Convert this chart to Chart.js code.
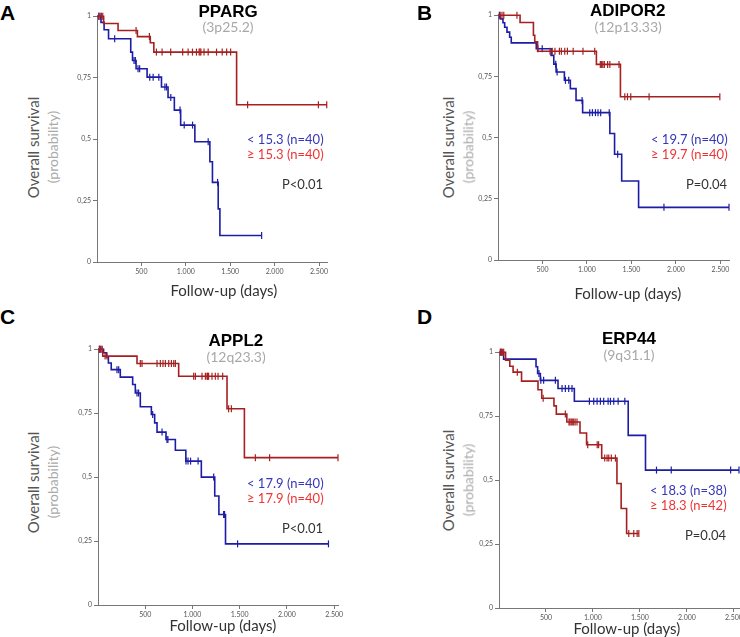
<!DOCTYPE html>
<html>
<head>
<meta charset="utf-8">
<script src="https://cdn.jsdelivr.net/npm/chart.js@4.4.1/dist/chart.umd.min.js"></script>
<style>
  body { margin: 0; background: #fff; }
  #page { position: relative; width: 740px; height: 637px; overflow: hidden; font-family: Lato, "Open Sans", sans-serif; }
  canvas { position: absolute; }
  .txt { position: absolute; white-space: nowrap; line-height: 1; }
</style>
</head>
<body>
<div id="page"></div>
<script>
// axis ticks
const xTickValues = [500, 1000, 1500, 2000, 2500];
const xTickLabels = ['500', '1.000', '1.500', '2.000', '2.500'];
const yTickValues = [0, 0.25, 0.5, 0.75, 1];
const yTickLabels = ['0', '0,25', '0,5', '0,75', '1'];

// A - PPARG
const ppargLowSteps = [[0,1],[45,0.975],[80,0.945],[130,0.908],[380,0.854],[400,0.82],[440,0.786],[564,0.752],[726,0.712],[800,0.669],[871,0.618],[942,0.557],[1102,0.489],[1271,0.408],[1300,0.324],[1365,0.216],[1384,0.108],[1854,0.108]];
const ppargLowCensor = [20, 35, 199, 417, 432, 462, 480, 594, 632, 696, 765, 783, 831, 935, 982, 1076, 1252, 1358, 1854];
const ppargHighSteps = [[0,1],[75,0.97],[237,0.942],[455,0.917],[600,0.892],[640,0.854],[1572,0.64],[2590,0.64]];
const ppargHighCensor = [20, 50, 65, 440, 590, 669, 733, 830, 965, 1026, 1075, 1120, 1150, 1160, 1170, 1205, 1252, 1346, 1410, 1460, 1505, 1696, 2493, 2587];

// B - ADIPOR2
const adiporLowSteps = [[0,1],[26,0.985],[56,0.969],[75,0.951],[101,0.931],[131,0.91],[149,0.887],[430,0.863],[597,0.836],[627,0.8],[653,0.768],[746,0.734],[813,0.7],[877,0.652],[951,0.602],[1257,0.517],[1310,0.432],[1390,0.323],[1580,0.215],[2596,0.215]];
const adiporLowCensor = [15, 448, 497, 649, 664, 758, 795, 945, 1031, 1061, 1095, 1124, 1154, 1250, 1345, 1865, 2596];
const adiporHighSteps = [[0,1],[248,0.97],[398,0.918],[413,0.891],[445,0.853],[1106,0.799],[1376,0.667],[2493,0.667]];
const adiporHighCensor = [25, 45, 65, 213, 585, 610, 640, 690, 712, 750, 780, 845, 955, 1087, 1150, 1165, 1178, 1195, 1232, 1257, 1360, 1425, 1455, 1492, 1698, 2493];

// C - APPL2
const applLowSteps = [[0,1],[59,0.986],[90,0.97],[110,0.946],[140,0.92],[236,0.891],[367,0.862],[395,0.829],[448,0.775],[565,0.745],[600,0.712],[625,0.676],[720,0.647],[819,0.605],[930,0.5625],[1094,0.5],[1236,0.426],[1280,0.354],[1350,0.239],[2440,0.239]];
const applLowCensor = [15, 30, 201, 219, 413, 430, 579, 678, 730, 740, 932, 953, 980, 1060, 1225, 1330, 1340, 1478, 2440];
const applHighSteps = [[0,1],[50,0.973],[413,0.944],[854,0.894],[1366,0.767],[1550,0.576],[2541,0.576]];
const applHighCensor = [15, 30, 45, 75, 95, 448, 466, 625, 660, 688, 713, 749, 777, 802, 819, 1013, 1031, 1101, 1137, 1154, 1160, 1165, 1171, 1207, 1242, 1271, 1320, 1383, 1412, 1666, 1817, 2541];

// D - ERP44
const erpLowSteps = [[0,1],[49,0.973],[394,0.943],[411,0.917],[440,0.89],[628,0.858],[802,0.808],[1375,0.675],[1559,0.539],[2554,0.539]];
const erpLowCensor = [15, 30, 425, 445, 475, 600, 671, 706, 742, 777, 962, 1008, 1044, 1079, 1114, 1161, 1186, 1221, 1268, 1339, 1676, 1833, 2465, 2554];
const erpHighSteps = [[0,1],[70,0.969],[115,0.945],[150,0.922],[240,0.887],[415,0.853],[455,0.82],[585,0.79],[610,0.758],[722,0.727],[862,0.684],[932,0.638],[1093,0.586],[1255,0.487],[1300,0.389],[1358,0.291],[1488,0.291]];
const erpHighCensor = [15, 25, 40, 50, 195, 470, 706, 745, 755, 768, 780, 795, 810, 830, 944, 1045, 1060, 1125, 1150, 1168, 1195, 1239, 1381, 1434, 1470, 1488];

const BLUE = '#1c1ca6';
const RED = '#a52020';

const panels = [
    { letter: 'A', gene: 'PPARG', locus: '(3p25.2)', low: '< 15.3 (n=40)', high: '≥ 15.3 (n=40)', p: 'P<0.01',
      lowSteps: ppargLowSteps, lowCensor: ppargLowCensor, highSteps: ppargHighSteps, highCensor: ppargHighCensor,
      box: { l: 97, t: 16, w: 230, h: 246 }, xMax: 2590,
      letterPos: [0, 3], titleY: 11, subY: 27, titleX: 228, legendR: 324, legendY: 139, pY: 184, yTitleX: 33, yTitleY: 147, xTitleX: 224, xTitleY: 290 },
    { letter: 'B', gene: 'ADIPOR2', locus: '(12p13.33)', low: '< 19.7 (n=40)', high: '≥ 19.7 (n=40)', p: 'P=0.04',
      lowSteps: adiporLowSteps, lowCensor: adiporLowCensor, highSteps: adiporHighSteps, highCensor: adiporHighCensor,
      box: { l: 498, t: 15, w: 231, h: 245 }, xMax: 2596,
      letterPos: [417, 3], titleY: 10, subY: 27, titleX: 628, legendR: 728, legendY: 139, pY: 184, yTitleX: 448, yTitleY: 147, xTitleX: 628, xTitleY: 293 },
    { letter: 'C', gene: 'APPL2', locus: '(12q23.3)', low: '< 17.9 (n=40)', high: '≥ 17.9 (n=40)', p: 'P<0.01',
      lowSteps: applLowSteps, lowCensor: applLowCensor, highSteps: applHighSteps, highCensor: applHighCensor,
      box: { l: 98, t: 349, w: 240, h: 256 }, xMax: 2541,
      letterPos: [0, 307], titleY: 340, subY: 357, titleX: 236, legendR: 324, legendY: 483, pY: 528, yTitleX: 33, yTitleY: 482, xTitleX: 223, xTitleY: 625 },
    { letter: 'D', gene: 'ERP44', locus: '(9q31.1)', low: '< 18.3 (n=38)', high: '≥ 18.3 (n=42)', p: 'P=0.04',
      lowSteps: erpLowSteps, lowCensor: erpLowCensor, highSteps: erpHighSteps, highCensor: erpHighCensor,
      box: { l: 499, t: 352, w: 240, h: 256 }, xMax: 2554,
      letterPos: [417, 307], titleY: 338, subY: 355, titleX: 629, legendR: 727, legendY: 490, pY: 535, yTitleX: 448, yTitleY: 480, xTitleX: 627, xTitleY: 628 }
];

const page = document.getElementById('page');

function addText(text, x, y, style, anchor) {
    const el = document.createElement('div');
    el.className = 'txt';
    el.textContent = text;
    Object.assign(el.style, style);
    page.appendChild(el);
    const w = el.offsetWidth, h = el.offsetHeight;
    let left = x - w / 2;
    if (anchor === 'right') left = x - w;
    if (anchor === 'left') left = x;
    el.style.left = left + 'px';
    el.style.top = (y - h / 2) + 'px';
    return el;
}

function addRotated(text, cx, cy, style) {
    const el = document.createElement('div');
    el.className = 'txt';
    el.textContent = text;
    Object.assign(el.style, style);
    page.appendChild(el);
    const w = el.offsetWidth, h = el.offsetHeight;
    el.style.left = (cx - w / 2) + 'px';
    el.style.top = (cy - h / 2) + 'px';
    el.style.transform = 'rotate(-90deg)';
}

function survivalAt(steps, t) {
    let s = 1;
    steps.forEach(([x, y]) => { if (x <= t) s = y; });
    return s;
}

const Y_AXIS_W = 30, X_AXIS_H = 20, PAD_T = 6, PAD_R = 8;

function drawPanel(p) {
    const canvas = document.createElement('canvas');
    const cw = p.box.w + Y_AXIS_W + PAD_R;
    const ch = p.box.h + PAD_T + X_AXIS_H;
    canvas.width = cw; canvas.height = ch;
    canvas.style.width = cw + 'px'; canvas.style.height = ch + 'px';
    canvas.style.left = (p.box.l - Y_AXIS_W) + 'px';
    canvas.style.top = (p.box.t - PAD_T) + 'px';
    page.appendChild(canvas);

    const curve = (steps, color) => ({
        data: steps.map(([x, y]) => ({ x, y })),
        showLine: true, stepped: true, borderColor: color, borderWidth: 1.6,
        pointRadius: 0, fill: false, clip: false
    });
    const censor = (times, steps, color) => ({
        data: times.map(t => ({ x: t, y: survivalAt(steps, t) })),
        showLine: false, pointStyle: 'line', rotation: 90, pointRadius: 3.5,
        borderColor: color, borderWidth: 1.2, clip: false
    });

    new Chart(canvas, {
        type: 'scatter',
        data: {
            datasets: [
                curve(p.highSteps, RED), censor(p.highCensor, p.highSteps, RED),
                curve(p.lowSteps, BLUE), censor(p.lowCensor, p.lowSteps, BLUE)
            ]
        },
        options: {
            responsive: false,
            animation: false,
            layout: { padding: { left: 0, top: PAD_T, right: PAD_R, bottom: 0 } },
            plugins: { legend: { display: false }, tooltip: { enabled: false } },
            scales: {
                x: {
                    type: 'linear', min: 0, max: p.xMax,
                    afterBuildTicks: axis => { axis.ticks = xTickValues.map(v => ({ value: v })); },
                    afterFit: axis => { axis.height = X_AXIS_H; },
                    ticks: {
                        callback: v => xTickLabels[xTickValues.indexOf(v)],
                        font: { size: 7, family: 'Lato' }, color: '#555', maxRotation: 0, padding: 2
                    },
                    grid: { drawOnChartArea: false, drawTicks: true, tickLength: 4, color: '#777' },
                    border: { color: '#777', width: 1 }
                },
                y: {
                    type: 'linear', min: 0, max: 1,
                    afterBuildTicks: axis => { axis.ticks = yTickValues.map(v => ({ value: v })); },
                    afterFit: axis => { axis.width = Y_AXIS_W; },
                    ticks: {
                        callback: v => yTickLabels[yTickValues.indexOf(v)],
                        font: { size: 7, family: 'Lato' }, color: '#555', padding: 2
                    },
                    grid: { drawOnChartArea: false, drawTicks: true, tickLength: 4, color: '#777' },
                    border: { color: '#777', width: 1 }
                }
            }
        }
    });

    // labels
    addText(p.letter, p.letterPos[0], p.letterPos[1] + 9, { fontFamily: '"Liberation Sans", Arial, sans-serif', fontWeight: 'bold', fontSize: '21px', color: '#000' }, 'left');
    addText(p.gene, p.titleX, p.titleY, { fontFamily: '"Liberation Sans", Arial, sans-serif', fontWeight: 'bold', fontSize: '17px', color: '#000' });
    addText(p.locus, p.titleX, p.subY, { fontSize: '14px', color: '#a8a8a8' });
    addText(p.low, p.legendR, p.legendY, { fontSize: '13px', color: '#3636b8' }, 'right');
    addText(p.high, p.legendR, p.legendY + 15, { fontSize: '13px', color: '#ee3535' }, 'right');
    addText(p.p, p.legendR - 1, p.pY, { fontSize: '13px', color: '#333' }, 'right');
    addRotated('Overall survival', p.yTitleX, p.yTitleY, { fontSize: '15px', color: '#555' });
    addRotated('(probability)', p.yTitleX + 20, p.yTitleY, { fontSize: '14px', color: '#aaa' });
    addText('Follow-up (days)', p.xTitleX, p.xTitleY, { fontSize: '15px', color: '#333' });
}

panels.forEach(drawPanel);
</script>
</body>
</html>
